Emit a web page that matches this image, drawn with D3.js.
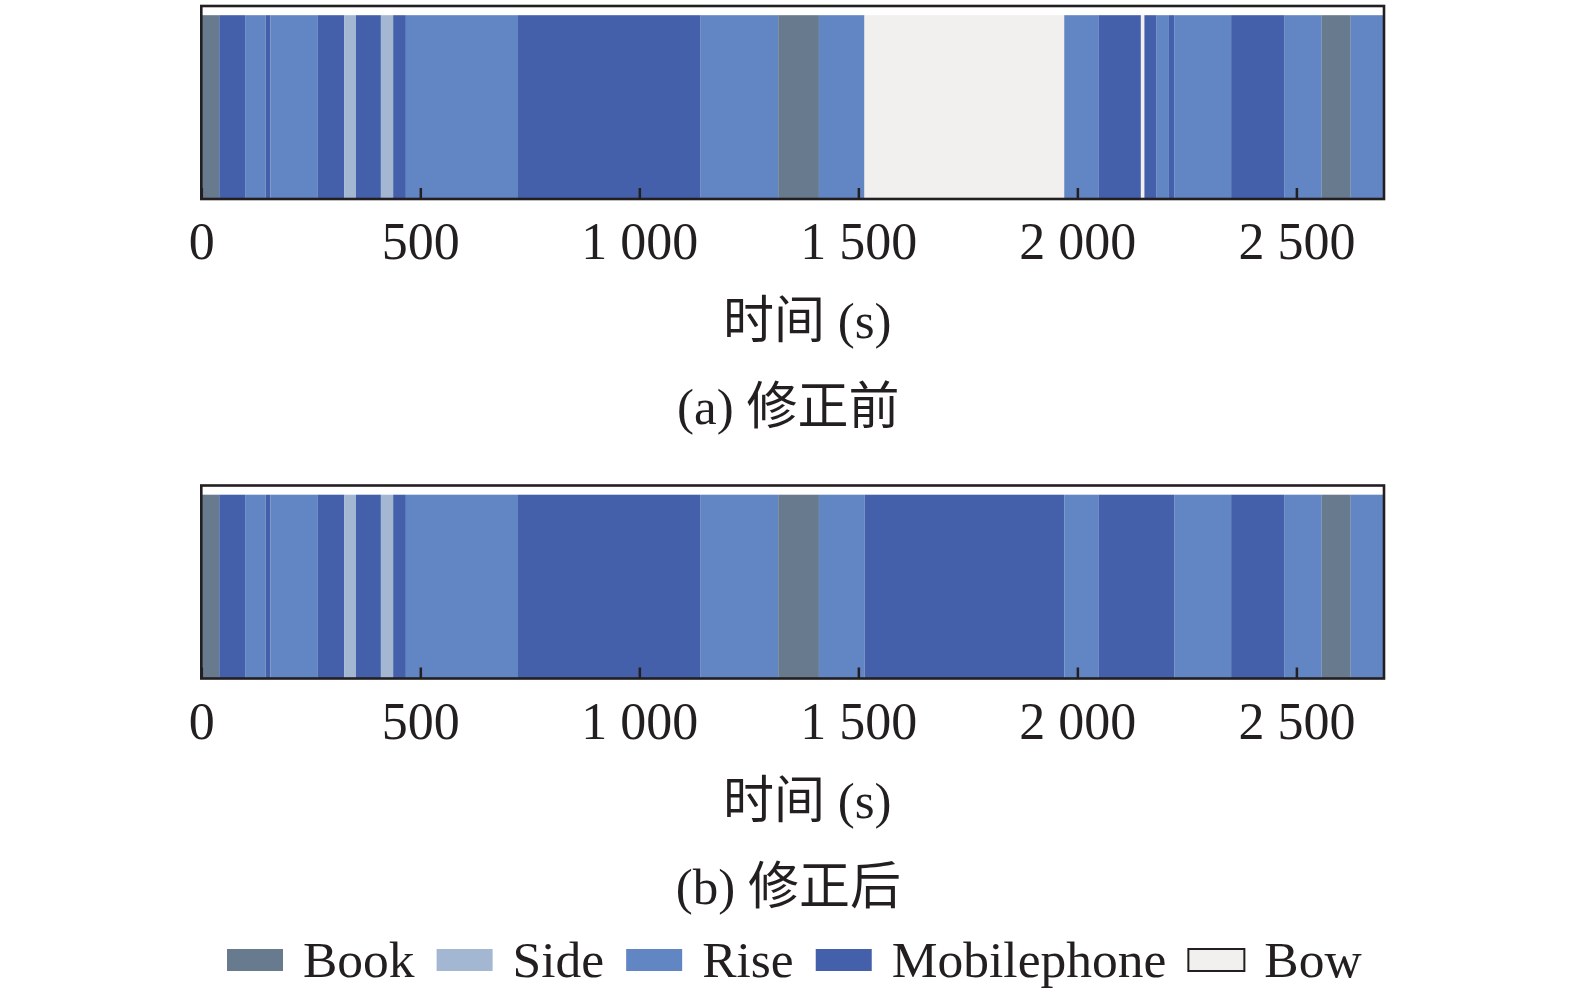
<!DOCTYPE html>
<html>
<head>
<meta charset="utf-8">
<script src="https://cdn.jsdelivr.net/npm/d3@7"></script>
<style>
  body { margin: 0; background: #fff; }
  text { font-family: "Liberation Serif", "Noto Sans CJK SC", serif; fill: #231f20; }
</style>
</head>
<body>
<div class="chart"></div>
<script>
// categories and colours
const categories = ["Book", "Side", "Rise", "Mobilephone", "Bow"];
const colors = ["#687a8e", "#a3b7d3", "#6285c3", "#4460ab", "#f1f0ee"];

// segment boundaries (s) and the activity of each segment, before correction
const beforeBounds = [0, 41, 100, 147, 158, 265, 326, 353, 410, 438, 467, 723, 1140, 1317, 1410, 1514,
    1970, 2048, 2145, 2153, 2181, 2209, 2221, 2351, 2472, 2558, 2624, 2700];
const beforeLabels = ["Book", "Mobilephone", "Rise", "Mobilephone", "Rise", "Mobilephone", "Side", "Mobilephone",
    "Side", "Mobilephone", "Rise", "Mobilephone", "Rise", "Book", "Rise", "Bow", "Rise", "Mobilephone", "Bow",
    "Mobilephone", "Rise", "Mobilephone", "Rise", "Mobilephone", "Rise", "Book", "Rise"];

// after correction
const afterBounds = [0, 41, 100, 147, 158, 265, 326, 353, 410, 438, 467, 723, 1140, 1317, 1410, 1514,
    1970, 2048, 2221, 2351, 2472, 2558, 2624, 2700];
const afterLabels = ["Book", "Mobilephone", "Rise", "Mobilephone", "Rise", "Mobilephone", "Side", "Mobilephone",
    "Side", "Mobilephone", "Rise", "Mobilephone", "Rise", "Book", "Rise", "Mobilephone", "Rise", "Mobilephone",
    "Rise", "Mobilephone", "Rise", "Book", "Rise"];

const xTicks = [0, 500, 1000, 1500, 2000, 2500];
const xLabel = "时间 (s)";
const captions = ["(a) 修正前", "(b) 修正后"];

const W = 1575, H = 998;
const margin = {left: 201.3, right: W - 1384};
const width = W - margin.left - margin.right;
const plotH = 193;

const svg = d3.select(".chart").append("svg")
    .attr("width", W)
    .attr("height", H);

const colorScale = d3.scaleOrdinal().domain(categories).range(colors);

const xScale = d3.scaleLinear()
    .domain([0, 2700])
    .range([0, width]);

const yScale = d3.scaleLinear()
    .domain([0, 1.05])
    .range([plotH, 0]);

const fmt = d3.formatLocale({decimal: ".", thousands: " ", grouping: [3], currency: ["", ""]}).format(",d");

function toSegments(bounds, labels) {
    return labels.map((k, i) => ({key: k, start: bounds[i], end: bounds[i + 1]}));
}

function StripChart(top, bounds, labels, caption) {
    const g = svg.append("g")
        .attr("transform", `translate(${margin.left},${top})`);

    g.selectAll(".seg")
        .data(toSegments(bounds, labels))
        .join("rect")
        .attr("class", "seg")
        .attr("x", d => xScale(d.start))
        .attr("width", d => xScale(d.end) - xScale(d.start))
        .attr("y", yScale(1))
        .attr("height", yScale(0) - yScale(1))
        .attr("fill", d => colorScale(d.key));

    const xAxis = d3.axisBottom(xScale)
        .tickValues(xTicks)
        .tickSize(-11)
        .tickFormat(fmt);

    const ax = g.append("g")
        .attr("transform", `translate(0,${plotH})`)
        .call(xAxis);
    ax.select(".domain").remove();
    ax.selectAll(".tick line")
        .attr("stroke", "#231f20")
        .attr("stroke-width", 2.5);
    ax.selectAll(".tick text")
        .attr("y", 60)
        .attr("dy", null)
        .attr("font-size", 52)
        .attr("font-family", "Liberation Serif")
        .attr("fill", "#231f20");

    // frame
    g.append("rect")
        .attr("width", width)
        .attr("height", plotH)
        .attr("fill", "none")
        .attr("stroke", "#231f20")
        .attr("stroke-width", 2.6);

    g.append("text")
        .attr("x", 606)
        .attr("y", plotH + 139)
        .attr("text-anchor", "middle")
        .attr("font-size", 51)
        .text(xLabel);

    g.append("text")
        .attr("x", 587)
        .attr("y", plotH + 225)
        .attr("text-anchor", "middle")
        .attr("font-size", 51)
        .text(caption);
}

StripChart(6, beforeBounds, beforeLabels, captions[0]);
StripChart(485.5, afterBounds, afterLabels, captions[1]);

// legend
const legend = svg.append("g").attr("transform", "translate(227,949)");
let lx = 0;
categories.forEach((c, i) => {
    const item = legend.append("g").attr("transform", `translate(${lx},0)`);
    item.append("rect")
        .attr("width", 56)
        .attr("height", 22)
        .attr("fill", colorScale(c))
        .attr("stroke", c === "Bow" ? "#231f20" : "none")
        .attr("stroke-width", 2);
    const t = item.append("text")
        .attr("x", 76)
        .attr("y", 28)
        .attr("font-size", 51.5)
        .text(c);
    lx += 76 + t.node().getComputedTextLength() + 22;
});
</script>
</body>
</html>
